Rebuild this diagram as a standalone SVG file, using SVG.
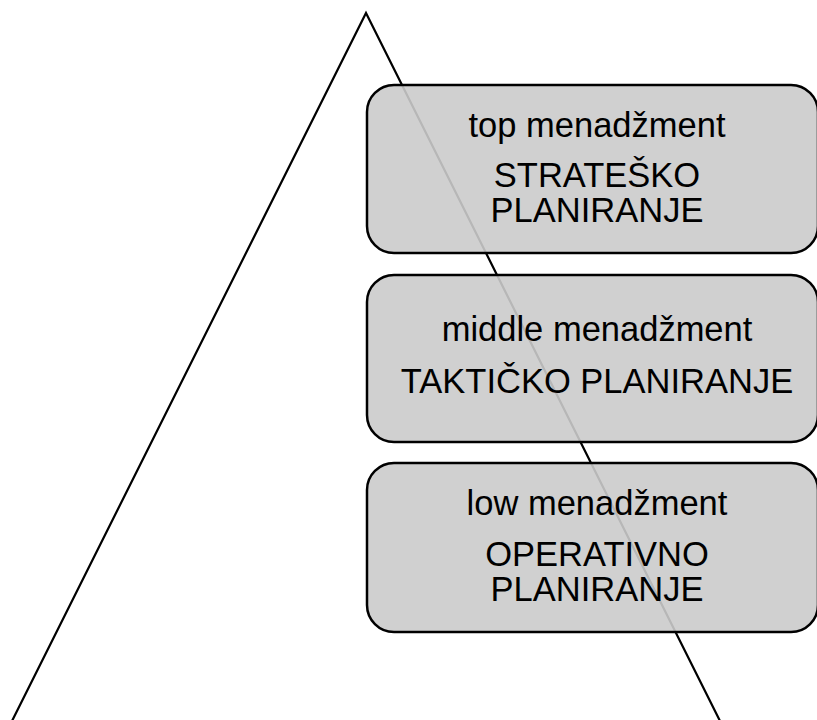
<svg xmlns="http://www.w3.org/2000/svg" width="817" height="720" viewBox="0 0 817 720">
<style>
.box{fill:#cbcbcb;fill-opacity:0.9;stroke:#000;stroke-width:2.5}
.t{font-family:"Liberation Sans",Arial,sans-serif;font-size:34.5px;fill:#000;text-anchor:middle}
.edge{fill:none;stroke:#000;stroke-width:2.2}
</style>
<rect width="817" height="720" fill="#fff"/>
<g id="connectors">
<polyline class="edge" points="-5,755 366,13 737,755"/>
</g>
<g id="node-top">
<rect class="box" x="367" y="85" width="451" height="168" rx="27" ry="27"/>
<text class="t" x="597" y="137">top menadžment</text>
<text class="t" x="597" y="187">STRATEŠKO</text>
<text class="t" x="597" y="222">PLANIRANJE</text>
</g>
<g id="node-middle">
<rect class="box" x="367" y="275" width="451" height="167" rx="27" ry="27"/>
<text class="t" x="597" y="341">middle menadžment</text>
<text class="t" x="597" y="393">TAKTIČKO PLANIRANJE</text>
</g>
<g id="node-low">
<rect class="box" x="367" y="463" width="451" height="169" rx="27" ry="27"/>
<text class="t" x="597" y="515">low menadžment</text>
<text class="t" x="597" y="566">OPERATIVNO</text>
<text class="t" x="597" y="601">PLANIRANJE</text>
</g>
</svg>
